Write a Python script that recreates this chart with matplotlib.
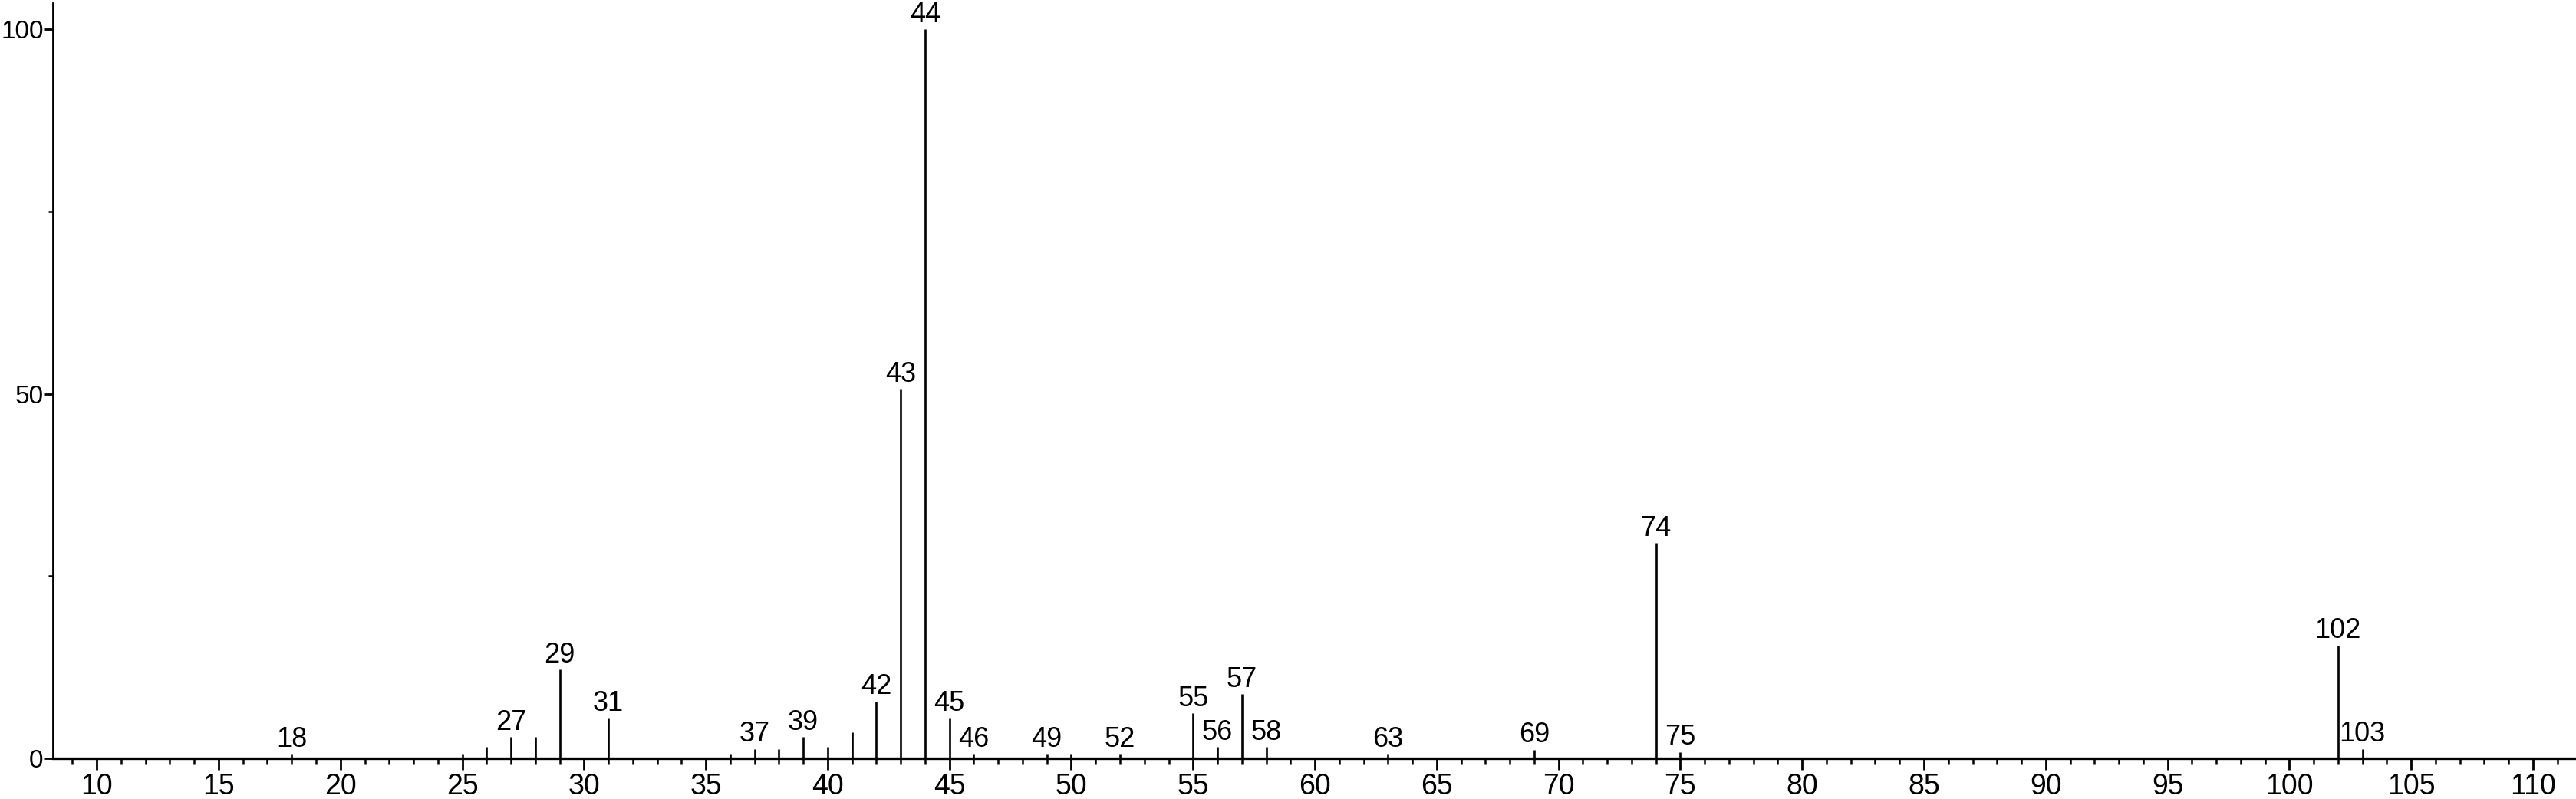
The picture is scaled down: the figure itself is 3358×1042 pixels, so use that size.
import matplotlib.pyplot as plt
import matplotlib
from matplotlib.ticker import MultipleLocator

matplotlib.rcParams.update({
    'font.family': 'Liberation Sans',
    'font.size': 27,
})

"Datos del espectro"

mz = [18, 25, 26, 27, 28, 29, 31, 36, 37, 38, 39, 40, 41, 42, 43, 44, 45,
      46, 49, 50, 52, 55, 56, 57, 58, 63, 69, 74, 75, 102, 103]
intensity = [0.6, 0.6, 1.55, 2.9, 2.9, 12.2, 5.5, 0.6, 1.3, 1.3, 2.9, 1.55,
             3.6, 7.8, 50.7, 100.0, 5.5, 0.6, 0.6, 0.6, 0.6, 6.2, 1.55, 8.8,
             1.55, 0.6, 1.2, 29.5, 0.85, 15.5, 1.3]
labeled = [18, 27, 29, 31, 37, 39, 42, 43, 44, 45, 46, 49, 52, 55, 56, 57,
           58, 63, 69, 74, 75, 102, 103]

x_ticks_major = list(range(10, 111, 5))
y_ticks_major = [0, 50, 100]

"Grafico"

fig = plt.figure(figsize=(33.58, 10.42), dpi=100)
ax = fig.add_axes([0.02055, 0.0509, 0.9794, 0.9453])

ax.vlines(mz, 0, intensity, colors='black', linewidth=1.9)

for m, i in zip(mz, intensity):
    if m in labeled:
        ax.annotate(str(m), (m, i), xytext=(0, 1), textcoords='offset points',
                    ha='center', va='bottom', fontsize=26, clip_on=False)

ax.set_xlim([8.2, 111.76])
ax.set_ylim([0, 103.6])

ax.set_xticks(x_ticks_major)
ax.xaxis.set_minor_locator(MultipleLocator(1))
ax.set_yticks(y_ticks_major)
ax.yaxis.set_minor_locator(MultipleLocator(25))

ax.spines['top'].set_visible(False)
ax.spines['right'].set_visible(False)
ax.spines['left'].set_linewidth(2.0)
ax.spines['bottom'].set_linewidth(2.4)

ax.tick_params(axis='x', which='major', length=11, width=2.0, pad=3)
ax.tick_params(axis='x', which='minor', length=6, width=1.8)
ax.tick_params(axis='y', which='major', length=8, width=2.0, pad=1,
               labelsize=24)
ax.tick_params(axis='y', which='minor', length=4, width=1.8)

fig.savefig('out.png', dpi=100)
